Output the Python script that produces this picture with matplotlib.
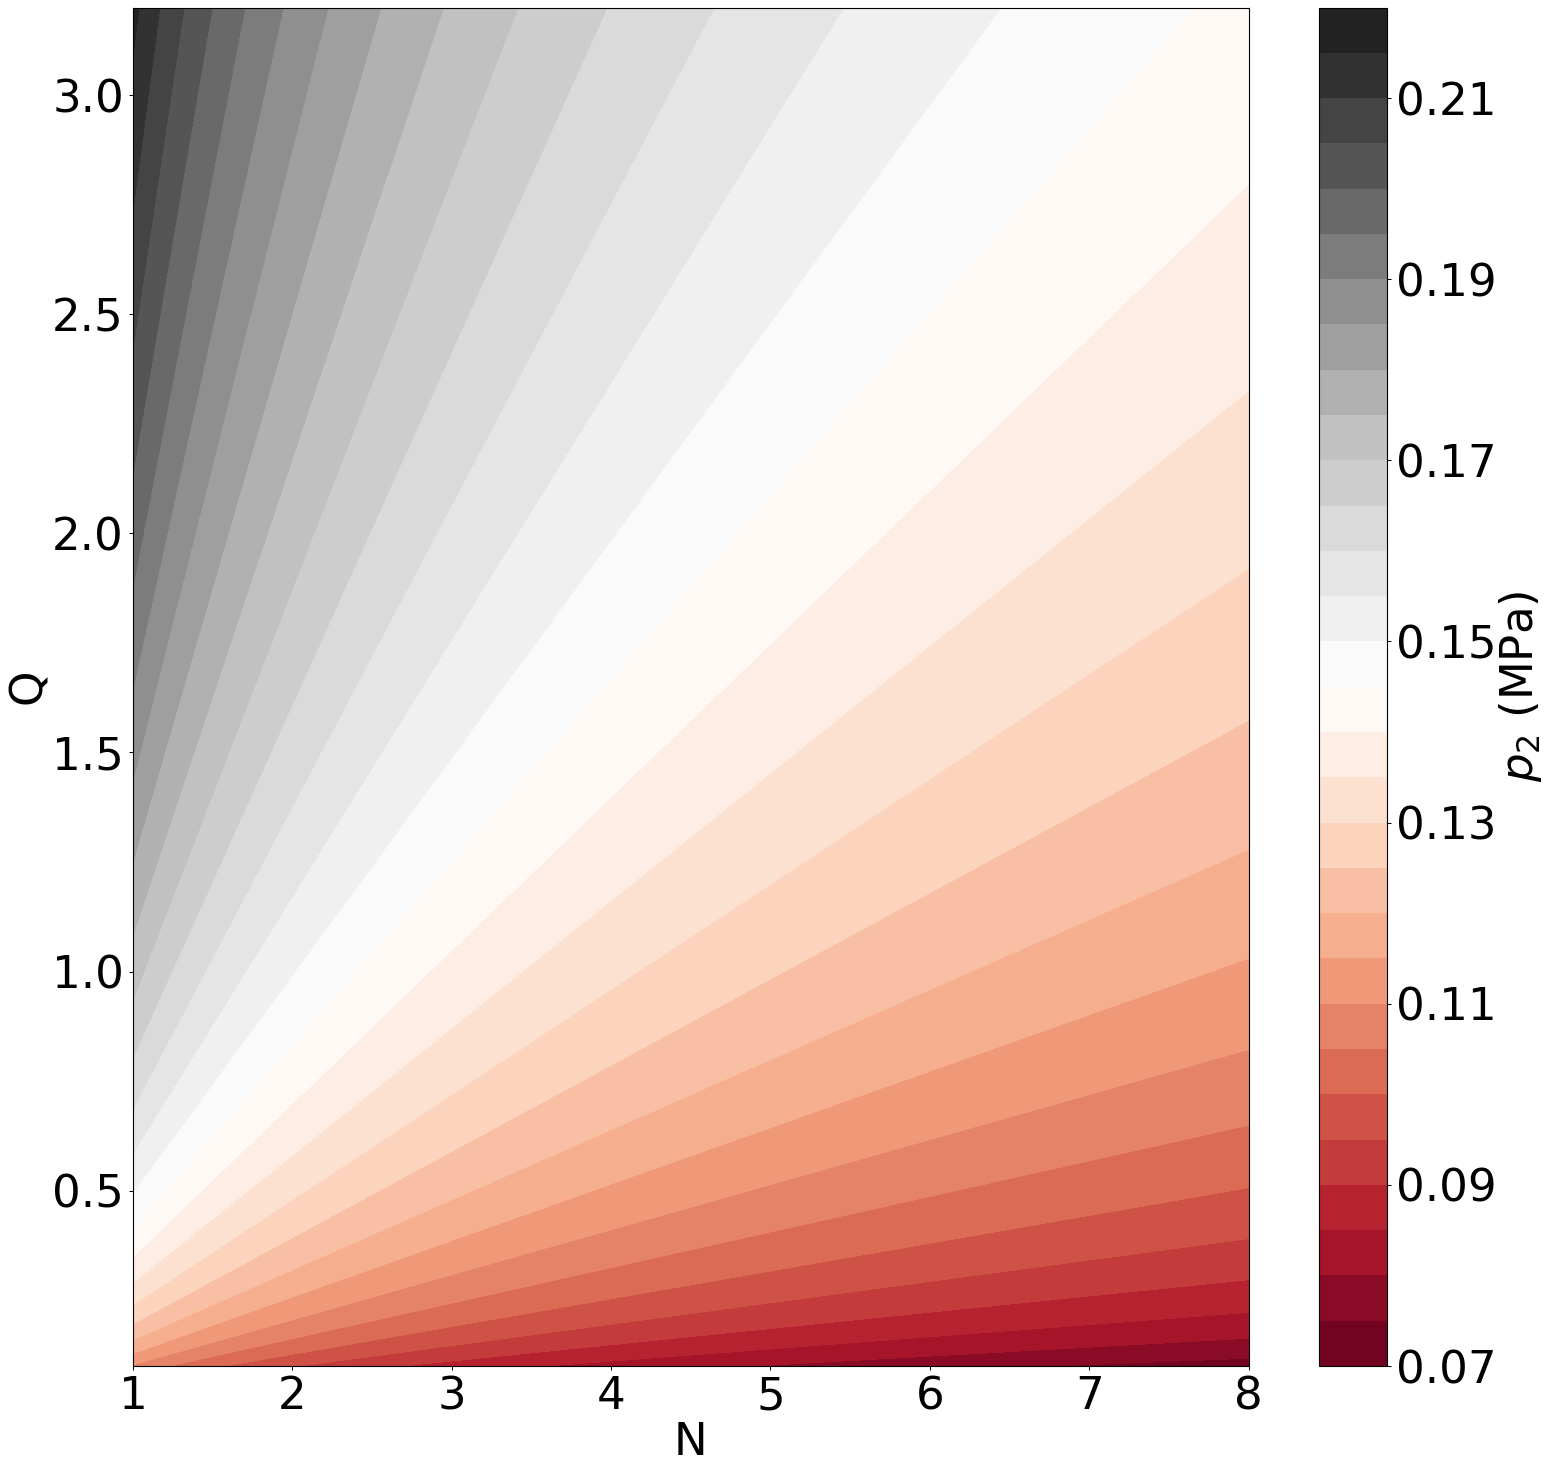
import numpy as np
import matplotlib
matplotlib.use("Agg")
import matplotlib.pyplot as plt

# ---- data ----
N_range = [1.0, 8.0]          # N axis extent
Q_range = [0.1, 3.2]          # Q axis extent
# p2 depends on the ratio Q/N; contour boundaries read from the picture follow
# p2 = coef * (Q/N) ** expo
p2_coef = 0.1722
p2_expo = 0.197
levels = [0.07 + 0.005 * i for i in range(31)]
cbar_ticks = [0.07, 0.09, 0.11, 0.13, 0.15, 0.17, 0.19, 0.21]
x_ticks = [1, 2, 3, 4, 5, 6, 7, 8]
y_ticks = [0.5, 1.0, 1.5, 2.0, 2.5, 3.0]

N = np.linspace(N_range[0], N_range[1], 300)
Q = np.linspace(Q_range[0], Q_range[1], 300)
NN, QQ = np.meshgrid(N, Q)
P2 = p2_coef * (QQ / NN) ** p2_expo

fs = 32.5
W, H = 1551, 1470
fig = plt.figure(figsize=(W / 100, H / 100), dpi=100)
ax = fig.add_axes([133 / W, 1 - 1366 / H, (1248.5 - 133) / W, (1366 - 7.5) / H])
cax = fig.add_axes([1318.5 / W, 1 - 1366 / H, (1386.5 - 1318.5) / W, (1366 - 7.5) / H])

cs = ax.contourf(NN, QQ, P2, levels=levels, cmap="RdGy")
ax.set_xlim(N_range)
ax.set_ylim(Q_range)
ax.set_xticks(x_ticks)
ax.set_yticks(y_ticks)
ax.tick_params(labelsize=fs, length=3, width=0.7)
ax.set_xlabel("N", fontsize=fs, labelpad=2)
ax.set_ylabel("Q", fontsize=fs, labelpad=1.5)

cb = fig.colorbar(cs, cax=cax)
cb.set_ticks(cbar_ticks)
cb.set_ticklabels([f"{t:.2f}" for t in cbar_ticks])
cb.ax.tick_params(labelsize=fs, length=3, width=0.7)
cb.set_label("$p_2$ (MPa)", fontsize=fs, labelpad=0.5)

fig.savefig("out.png", dpi=100)
